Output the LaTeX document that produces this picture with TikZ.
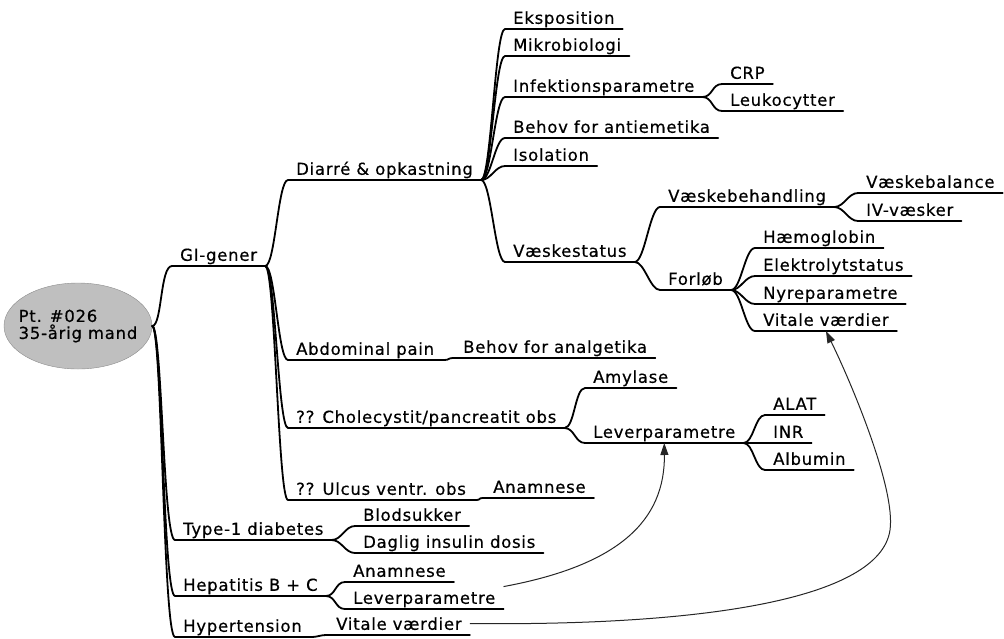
\documentclass[tikz,border=0pt]{standalone}
\usepackage{fontspec}
\setmainfont{DejaVu Sans}[LetterSpace=4.5, FakeBold=0.5]
\usetikzlibrary{arrows.meta,shapes.geometric}

\newcommand\branchto[2]{\draw[branch] (#1.south east) .. controls +(10,0) and +(-10,0) .. (#2.south west);}

\begin{document}
\begin{tikzpicture}[x=1pt,y=-1pt,
  topic/.style={anchor=south west, inner xsep=8pt, inner ysep=5pt, text depth=0pt,
    font=\fontsize{16.5}{17}\selectfont, text=black},
  branch/.style={line width=1.8pt, black, line cap=round},
  xlink/.style={line width=1pt, black!85, -{Triangle[length=12pt,width=8pt]}},
  centre/.style={ellipse, draw=black!45, fill=black!25, minimum width=148pt,
    minimum height=86pt, inner xsep=-12pt, inner ysep=0pt, align=left,
    font=\fontsize{16.5}{17}\selectfont, text=black}]

\useasboundingbox (0,0) rectangle (1004,638);

% central topic
\node[centre] (root) at (78,326) {Pt. \#026\\35-årig mand};

% main branches
\node[topic] (gi)  at (172,266) {GI-gener};
\node[topic] (t1d) at (175,540) {Type-1 diabetes};
\node[topic] (hep) at (175,596) {Hepatitis B + C};
\node[topic] (hyp) at (175,637) {Hypertension};

% GI-gener
\node[topic] (dia) at (288,180) {Diarré \& opkastning};
\node[topic] (abd) at (288,360) {Abdominal pain};
\node[topic] (cho) at (288,428) {?? Cholecystit/pancreatit obs};
\node[topic] (ulc) at (288,500) {?? Ulcus ventr. obs};

% Diarré & opkastning
\node[topic] (eks) at (505,29)  {Eksposition};
\node[topic] (mik) at (505,56)  {Mikrobiologi};
\node[topic] (inf) at (505,97)  {Infektionsparametre};
\node[topic] (crp) at (722,84)  {CRP};
\node[topic] (leu) at (722,111) {Leukocytter};
\node[topic] (ant) at (505,138) {Behov for antiemetika};
\node[topic] (iso) at (505,166) {Isolation};
\node[topic] (vst) at (505,262) {Væskestatus};
\node[topic] (vbh) at (660,207) {Væskebehandling};
\node[topic] (vbl) at (858,193) {Væskebalance};
\node[topic] (ivv) at (858,221) {IV-væsker};
\node[topic] (frl) at (660,290) {Forløb};
\node[topic] (hb)  at (755,248) {Hæmoglobin};
\node[topic] (elk) at (755,276) {Elektrolytstatus};
\node[topic] (nyr) at (755,304) {Nyreparametre};
\node[topic] (vit) at (755,331) {Vitale værdier};

% other GI topics
\node[topic] (ana) at (455,358) {Behov for analgetika};
\node[topic] (amy) at (585,388) {Amylase};
\node[topic] (lev) at (585,443) {Leverparametre};
\node[topic] (alat) at (765,415) {ALAT};
\node[topic] (inr) at (765,443) {INR};
\node[topic] (alb) at (765,470) {Albumin};
\node[topic] (uan) at (485,498) {Anamnese};

% diabetes, hepatitis, hypertension
\node[topic] (blo)  at (355,526) {Blodsukker};
\node[topic] (dag)  at (355,553) {Daglig insulin dosis};
\node[topic] (han)  at (345,582) {Anamnese};
\node[topic] (hlev) at (345,609) {Leverparametre};
\node[topic] (hvit) at (328,635) {Vitale værdier};

% underlines
\foreach \n in {gi,t1d,hep,hyp,dia,abd,cho,ulc,eks,mik,inf,crp,leu,ant,iso,vst,
  vbh,vbl,ivv,frl,hb,elk,nyr,vit,ana,amy,lev,alat,inr,alb,uan,blo,dag,han,hlev,hvit}
  {\draw[branch] (\n.south west) -- (\n.south east);}

% branches from the central topic
\foreach \c in {gi,t1d,hep,hyp}
  {\draw[branch] (root.east) .. controls +(10,0) and +(-12,0) .. (\c.south west);}

% branches between topics
\foreach \p/\c in {gi/dia,gi/abd,gi/cho,gi/ulc,
  dia/eks,dia/mik,dia/inf,dia/ant,dia/iso,dia/vst,
  inf/crp,inf/leu,vst/vbh,vst/frl,vbh/vbl,vbh/ivv,
  frl/hb,frl/elk,frl/nyr,frl/vit,
  abd/ana,cho/amy,cho/lev,lev/alat,lev/inr,lev/alb,ulc/uan,
  t1d/blo,t1d/dag,hep/han,hep/hlev,hyp/hvit}
  {\branchto{\p}{\c}}

% cross links
\draw[xlink] (hlev.north east) .. controls (620,565) and (665,520) .. (lev.south);
\draw[xlink] (hvit.east) .. controls (700,626) and (880,600) .. (890,530)
  .. controls (896,488) and (850,380) .. (vit.south);
\end{tikzpicture}
\end{document}
